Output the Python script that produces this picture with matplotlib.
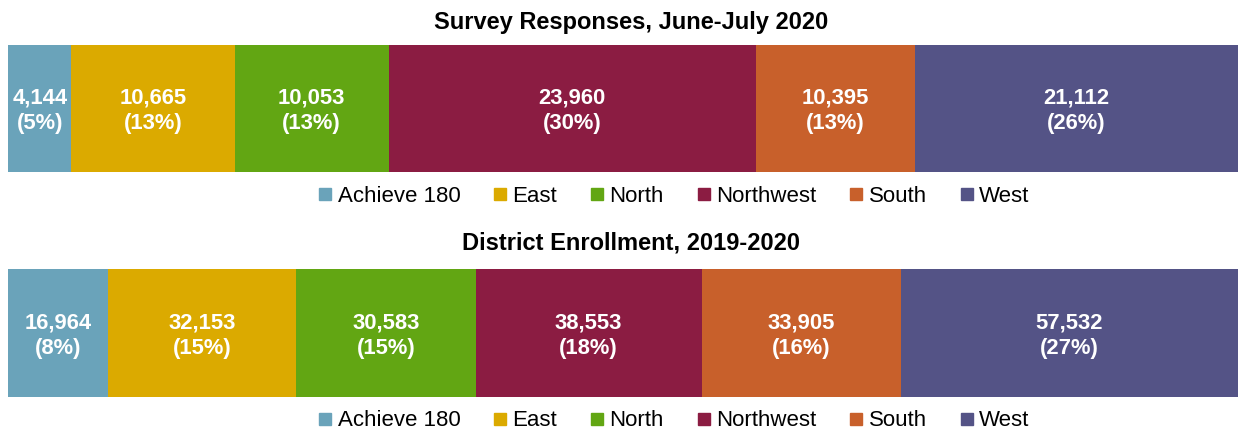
import matplotlib
matplotlib.use("Agg")
import matplotlib.pyplot as plt
from matplotlib.lines import Line2D

plt.rcParams['font.family'] = ['Liberation Sans', 'DejaVu Sans']

regions = ["Achieve 180", "East", "North", "Northwest", "South", "West"]
colors = ["#6aa3ba", "#dbaa00", "#62a613", "#8b1c42", "#c8602b", "#545386"]
survey_values = [4144, 10665, 10053, 23960, 10395, 21112]
enroll_values = [16964, 32153, 30583, 38553, 33905, 57532]
titles = ["Survey Responses, June-July 2020", "District Enrollment, 2019-2020"]

fig = plt.figure(figsize=(12.42, 4.32), dpi=100)

W, H = 1242, 432
panels = [
    # (values, bar top px, bar bottom px, title y px, legend y px)
    (survey_values, 45, 172, 22, 196),
    (enroll_values, 269, 397, 243, 421),
]

for (vals, top, bot, ty, ly), title in zip(panels, titles):
    ax = fig.add_axes([8 / W, 1 - bot / H, 1230 / W, (bot - top) / H])
    total = sum(vals)
    left = 0
    for v, c in zip(vals, colors):
        ax.barh(0, v, left=left, height=1.0, color=c, edgecolor='none')
        pct = round(100 * v / total)
        ax.text(left + v / 2, -0.02, f"{v:,}\n({pct}%)", ha='center', va='center',
                color='white', fontsize=15.8, fontweight='bold', linespacing=1.3)
        left += v
    ax.set_xlim(0, total)
    ax.set_ylim(-0.5, 0.5)
    ax.axis('off')
    fig.text(631 / W, 1 - ty / H, title, ha='center', va='center',
             fontsize=17, fontweight='bold', color='black')
    handles = [Line2D([], [], marker='s', linestyle='none', markersize=8,
                      markerfacecolor=c, markeredgecolor=c) for c in colors]
    fig.legend(handles, regions, loc='center', bbox_to_anchor=(674 / W, 1 - ly / H),
               ncol=6, frameon=False, fontsize=16, handlelength=0.6,
               handletextpad=0.25, columnspacing=1.5, borderaxespad=0,
               borderpad=0)

fig.savefig("out.png", dpi=100)
